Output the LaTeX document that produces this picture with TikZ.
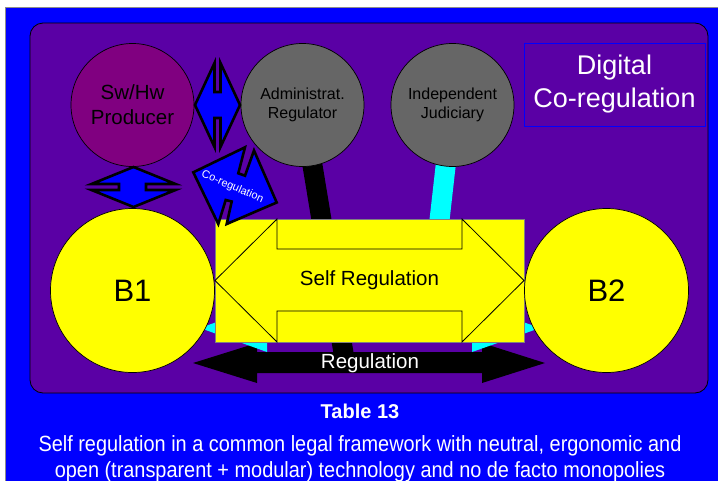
\documentclass[tikz,border=0pt]{standalone}
\usepackage{fontspec}
\setmainfont{Liberation Sans}
\newfontfamily\capfont[FakeStretch=0.905]{Liberation Sans}
\definecolor{frameblue}{RGB}{0,0,255}
\definecolor{panel}{RGB}{90,0,165}
\definecolor{producer}{RGB}{128,0,128}
\definecolor{authority}{RGB}{102,102,102}
\definecolor{selfyellow}{RGB}{255,255,0}
\definecolor{judcyan}{RGB}{0,255,255}
\newcommand{\fs}[2]{\fontsize{#1}{#2}\selectfont}
\tikzset{
  actor/.style={circle, draw=black, line width=0.7, minimum size=123, inner sep=0pt, align=center},
  party/.style={circle, draw=black, line width=0.7, fill=selfyellow, minimum size=164, inner sep=0pt, font=\fs{31}{36}},
  link/.style={fill=frameblue, draw=black, line width=2.6, line join=miter},
  whitetext/.style={text=white, inner sep=0pt, align=center}
}
\begin{document}
\begin{tikzpicture}[x=1pt, y=-1pt]
\useasboundingbox (0,0) rectangle (718,480);
% page background and frame
\fill[white] (0,0) rectangle (718,480);
\draw[fill=frameblue, draw=black!45, line width=1] (5.5,7.5) rectangle (740,500);
\draw[fill=panel, draw=black, line width=0.8, rounded corners=13] (30,23) rectangle (708,393);

% connector bars running under the self-regulation block
\coordinate (adminfoot) at (345,362);
\coordinate (judfoot) at (435,260);
\draw[line width=20, black] (302.5,105) -- (adminfoot);
\draw[line width=20, judcyan] (452.5,105) -- (judfoot);

% actors
\node[actor, fill=producer, font=\fs{20.5}{25}] (prod) at (132.5,105) {Sw/Hw\\Producer};
\node[actor, fill=authority, font=\fs{16}{18.5}] (admin) at (302.5,105) {Administrat.\\Regulator};
\node[actor, fill=authority, font=\fs{16}{18.5}] (jud) at (452.5,105) {Independent\\Judiciary};

% title box
\node[draw=frameblue, line width=0.8, minimum width=181, minimum height=83, whitetext, font=\fs{27}{33}] (title) at (614.5,84.5) {Digital\\Co-regulation};

% regulation double arrow
\fill[black] (193,363) -- (257,343) -- (257,352) -- (482,352) -- (482,343) -- (545,363)
  -- (482,383) -- (482,373) -- (257,373) -- (257,383) -- cycle;
% cyan double arrow, mostly hidden by the block
\fill[judcyan] (200,328) -- (267,304) -- (267,318) -- (472,318) -- (472,304) -- (540,328)
  -- (472,352) -- (472,340) -- (267,340) -- (267,352) -- cycle;
\node[whitetext, font=\fs{20.5}{24}] (reg) at (370,363) {Regulation};

% self regulation block
\node[rectangle, fill=selfyellow, draw=black!50, line width=0.5, minimum width=309, minimum height=123, font=\fs{20.5}{24}] (self) at (369.5,280.5) {Self Regulation};
\draw[line width=0.8, line join=miter] (215,280.5) -- (277,219) -- (277,249) -- (462,249) -- (462,219) -- (524,280.5)
  -- (462,342) -- (462,311) -- (277,311) -- (277,342) -- cycle;

% the two parties
\node[party] (b1) at (132.5,290.5) {B1};
\node[party] (b2) at (606.5,290.5) {B2};

% slit diamond links
\draw[link] (214.5,63) -- (214.5,92) -- (220.5,92) -- (220.5,63) -- (240,105) -- (220.5,147)
  -- (220.5,118) -- (214.5,118) -- (214.5,147) -- (195,105) -- cycle;
\draw[link] (91.5,184) -- (119,184) -- (119,190) -- (91.5,190) -- (133.5,207) -- (175.5,190)
  -- (146,190) -- (146,184) -- (175.5,184) -- (133.5,167) -- cycle;
\draw[link] (193.3,172.3) -- (245,147.3) -- (238.3,173.3) -- (245,175.7) -- (254,150.5) -- (276.7,202.5)
  -- (226.7,224) -- (231.7,201.5) -- (225.7,200) -- (218.3,224) -- cycle;
\node[whitetext, rotate=-23, font=\fs{11}{13}] (coreg) at (232.5,187) {Co-regulation};

% caption
\node[whitetext, font=\bfseries\fs{20}{24}] (tab) at (360,411) {Table 13};
\node[whitetext, font=\capfont\fs{22}{26}] (cap) at (360,458.5) {Self regulation in a common legal framework with neutral, ergonomic and\\open (transparent + modular) technology and no de facto monopolies};
\end{tikzpicture}
\end{document}
